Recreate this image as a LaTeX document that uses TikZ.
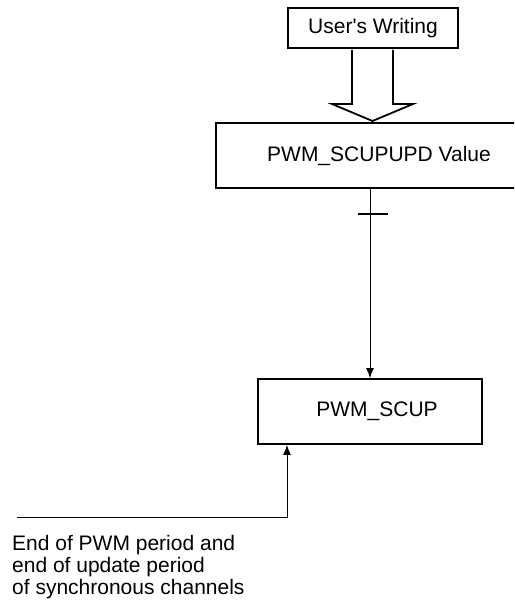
\documentclass[tikz,border=0pt]{standalone}
\usepackage{fontspec}
\setmainfont{Liberation Sans}
\usetikzlibrary{arrows.meta}

\begin{document}
\begin{tikzpicture}[x=1pt,y=-1pt,>={Latex[length=10pt,width=8pt]},
    font=\fontsize{21}{22}\selectfont,
    regbox/.style={draw,line width=1.8pt,inner sep=0pt,minimum height=65pt}]
        \def\W{514}
        \def\H{607}
        \clip (0,0) rectangle (\W,\H);

        \node[draw,line width=1.5pt,minimum width=170pt,minimum height=40pt,inner sep=0pt]
            (writing) at (373,28) {User\textquotesingle s Writing};
        \node[regbox,minimum width=326pt] (upd) at (379,155.5) {PWM\_SCUPUPD Value};
        \node[regbox,minimum width=224pt] (scup) at (370,411.5) {\hspace*{14pt}PWM\_SCUP};

        % hollow write arrow
        \draw[line width=1.8pt,line join=miter]
            (352,50) -- (352,104) -- (332,104) -- (372.5,121) -- (413,104)
            -- (393,104) -- (393,50);

        \draw[->,line width=1pt] (upd.south -| scup.north) -- (scup.north);
        \coordinate (tick) at (370,214);
        \draw[line width=1.8pt] (tick) ++(-12,0) -- ++(30,0);

        \coordinate (evt) at (17,517);
        \draw[->,line width=1pt] (evt) -| ([xshift=-83pt]scup.south);
        \node[anchor=base west,align=left,inner sep=0pt] (evtlabel) at (12,594)
            {End of PWM period and\\end of update period\\of synchronous channels};
    \end{tikzpicture}
\end{document}
